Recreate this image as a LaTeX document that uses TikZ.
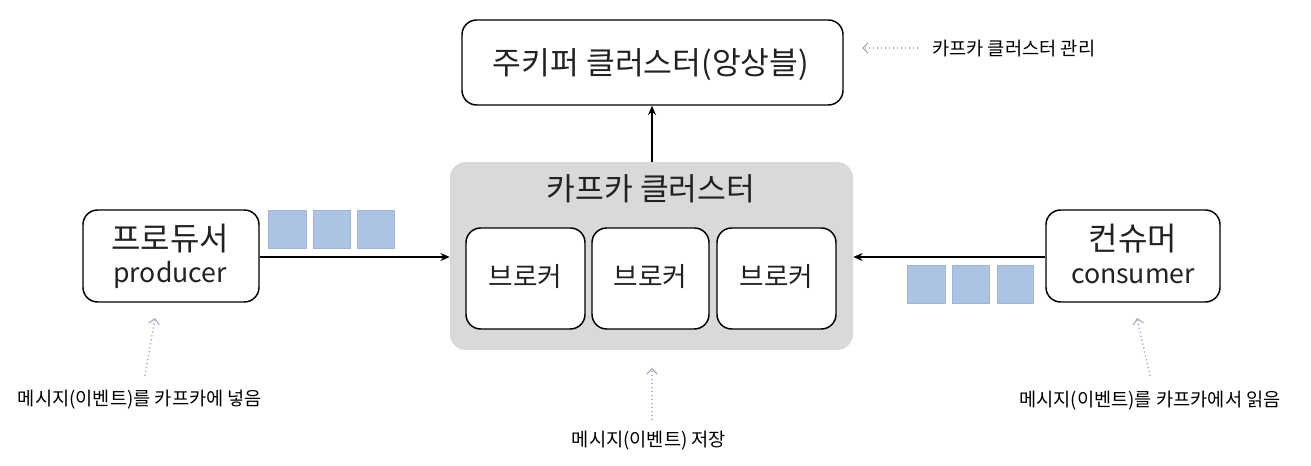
\documentclass[tikz,border=0pt]{standalone}
\usepackage{fontspec}
\setmainfont{Noto Sans CJK KR}
\usetikzlibrary{arrows.meta,fit}
\definecolor{clusterfill}{HTML}{D9D9D9}
\definecolor{msgfill}{HTML}{ADC3E3}
\definecolor{msgline}{HTML}{9FB4D6}
\definecolor{notecol}{HTML}{A4AAC4}
\definecolor{txt}{HTML}{222222}
\tikzset{
  wbox/.style={draw=black, line width=1.1pt, rounded corners=11pt, fill=white, inner sep=0pt},
  cluster/.style={fill=clusterfill, rounded corners=12pt, inner sep=0pt},
  msg/.style={fill=msgfill, draw=msgline, line width=0.4pt, inner sep=0pt},
  bigtxt/.style={font=\fontsize{23.5}{26}\selectfont, text=txt, anchor=base, inner sep=0pt},
  hantxt/.style={font=\fontsize{24}{26}\selectfont, text=txt, anchor=base, inner sep=0pt},
  lattxt/.style={font=\fontsize{20}{24}\selectfont, text=txt, anchor=base, inner sep=0pt},
  brtxt/.style={font=\fontsize{20}{22}\selectfont, text=txt, anchor=base, inner sep=0pt},
  note/.style={font=\fontsize{14}{16}\selectfont, text=black, inner sep=0pt},
  flow/.style={draw=black, line width=1.1pt, -{Stealth[length=7pt,width=6pt]}},
  notearrow/.style={draw=notecol, line width=1pt, dotted, -{Straight Barb[length=4pt,width=8pt,line width=0.8pt]}},
}
\begin{document}
\begin{tikzpicture}[x=0.75pt,y=-0.75pt]
\useasboundingbox (0,0) rectangle (1311,466);
% Zookeeper
\node[wbox, fit={(462,20)(843,105)}] (zk) {};
\node[bigtxt] (zkt) at (651,75) {주키퍼 클러스터(앙상블)};
% Kafka cluster
\node[cluster, fit={(450,162)(853,350)}] (kafka) {};
\node[bigtxt] (ktitle) at (651,201) {카프카 클러스터};
\node[wbox, fit={(466,228)(585,329)}] (b1) {};
\node[wbox, fit={(592,228)(709,329)}] (b2) {};
\node[wbox, fit={(717,228)(836,329)}] (b3) {};
\node[brtxt] (b1t) at (b1.center |- 0,287) {브로커};
\node[brtxt] (b2t) at (b2.center |- 0,287) {브로커};
\node[brtxt] (b3t) at (b3.center |- 0,287) {브로커};
% Producer / consumer
\node[wbox, fit={(83,210)(259,302)}] (prod) {};
\node[hantxt] (prodk) at (170,251) {프로듀서};
\node[lattxt] (prode) at (170,283) {producer};
\node[wbox, fit={(1046,210)(1220,302)}] (cons) {};
\node[hantxt] (consk) at (1133,251) {컨슈머};
\node[lattxt] (conse) at (1133,284) {consumer};
% messages
\node[msg, fit={(268,210)(306,248)}] (pm1) {};
\node[msg, fit={(313,210)(350,248)}] (pm2) {};
\node[msg, fit={(357,210)(394,248)}] (pm3) {};
\node[msg, fit={(907,265)(945,303)}] (cm1) {};
\node[msg, fit={(952,265)(989,303)}] (cm2) {};
\node[msg, fit={(997,265)(1033,303)}] (cm3) {};
% flows
\draw[flow] (prod.east |- 0,257) -- (kafka.west |- 0,257);
\draw[flow] (cons.west |- 0,257) -- (kafka.east |- 0,257);
\draw[flow] (kafka.north -| 652,0) -- (zk.south -| 652,0);
% notes
\node[note, anchor=west] (n1) at (932,49) {카프카 클러스터 관리};
\node[note] (n2) at (140,400) {메시지(이벤트)를 카프카에 넣음};
\node[note] (n3) at (649,441) {메시지(이벤트) 저장};
\node[note] (n4) at (1150,401) {메시지(이벤트)를 카프카에서 읽음};
\coordinate (t1) at (862,48);
\coordinate (s1) at (918,48);
\coordinate (t2) at (155,318);
\coordinate (s2) at (145,376);
\coordinate (t3) at (652,368);
\coordinate (s3) at (652,420);
\coordinate (t4) at (1137,318);
\coordinate (s4) at (1150,376);
\draw[notearrow] (s1) -- (t1);
\draw[notearrow] (s2) -- (t2);
\draw[notearrow] (s3) -- (t3);
\draw[notearrow] (s4) -- (t4);
\end{tikzpicture}
\end{document}
